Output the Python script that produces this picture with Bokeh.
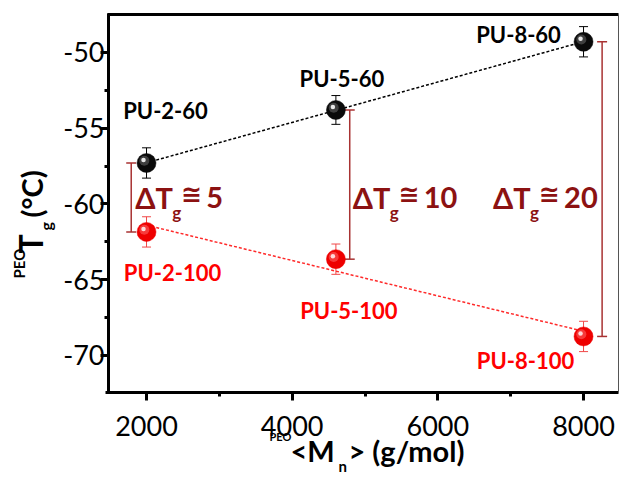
import numpy as np
from bokeh.plotting import figure
from bokeh.models import (ColumnDataSource, Whisker, TeeHead, Label, LinearAxis,
                          FixedTicker, Range1d, CustomJSTickFormatter)
from bokeh.transform import dodge
from bokeh.embed import file_html
from bokeh.resources import INLINE

# ---------------- data ----------------
mn = [2000, 4600, 8000]
tg_60 = [-57.3, -53.8, -49.3]
err_60 = [1.0, 0.95, 1.0]
tg_100 = [-61.85, -63.65, -68.75]
err_100 = [1.0, 1.0, 1.0]
names_60 = ["PU-2-60", "PU-5-60", "PU-8-60"]
names_100 = ["PU-2-100", "PU-5-100", "PU-8-100"]
delta_values = ["5", "10", "20"]
bracket_x = [1790, 4790, 8255]
x_ticks = [2000, 4000, 6000, 8000]
x_minor = [3000, 5000, 7000]
y_ticks = [-70, -65, -60, -55, -50]
y_minor = [-67.5, -62.5, -57.5, -52.5]
XD = (1478, 8480)
YD = (-72.45, -47.5)

# ---------------- layout ----------------
W, H = 620, 477
PL, PR, PT, PB = 108, 618, 14, 392          # plot-area box in canvas pixels
FONT = "Lato"
DRED = "#8C1212"
BR = "#A83232"
K = 0.39                                    # baseline correction (fraction of font size)

px_x = (XD[1] - XD[0]) / (PR - PL)
px_y = (YD[1] - YD[0]) / (PB - PT)
xr = Range1d(XD[0] - PL * px_x, XD[1] + (W - PR) * px_x)
yr = Range1d(YD[0] - (H - PB) * px_y, YD[1] + PT * px_y)

p = figure(width=W, height=H, x_range=xr, y_range=yr,
           x_axis_location=None, y_axis_location=None,
           output_backend="svg", toolbar_location=None, min_border=0)
p.grid.visible = False
p.outline_line_color = None
p.background_fill_color = "white"
p.border_fill_color = "white"

fmt = CustomJSTickFormatter(code="return tick.toString()")


def style_axis(ax, size="27px"):
    ax.axis_line_width = 3
    ax.axis_line_color = "black"
    ax.major_tick_line_width = 3
    ax.minor_tick_line_width = 3
    ax.major_tick_out = 8
    ax.major_tick_in = 0
    ax.minor_tick_out = 4
    ax.minor_tick_in = 0
    ax.major_label_text_font = FONT
    ax.major_label_text_font_size = size
    ax.major_label_text_color = "black"


xax = LinearAxis(fixed_location=YD[0], bounds=(XD[0] - 3 * px_x, XD[1]),
                 ticker=FixedTicker(ticks=x_ticks, minor_ticks=x_minor), formatter=fmt)
style_axis(xax)
xax.major_label_standoff = 15
p.add_layout(xax, "below")

yax = LinearAxis(fixed_location=XD[0], bounds=(YD[0], YD[1] + 1.5 * px_y),
                 ticker=FixedTicker(ticks=y_ticks, minor_ticks=y_minor), formatter=fmt)
style_axis(yax)
yax.major_label_standoff = -4
p.add_layout(yax, "left")

top = LinearAxis(fixed_location=YD[1], bounds=(XD[0] - 1.5 * px_x, XD[1]),
                 ticker=FixedTicker(ticks=[]), major_label_text_font_size="0px",
                 axis_line_width=3, axis_line_color="black",
                 major_tick_out=0, minor_tick_out=0, major_tick_in=0, minor_tick_in=0)
p.add_layout(top, "above")

right = LinearAxis(fixed_location=XD[1], bounds=YD,
                   ticker=FixedTicker(ticks=[]), major_label_text_font_size="0px",
                   axis_line_width=1, axis_line_color="#555555",
                   major_tick_out=0, minor_tick_out=0, major_tick_in=0, minor_tick_in=0)
p.add_layout(right, "right")

# ---------------- fit lines ----------------
for ys, col in ((tg_60, "black"), (tg_100, "#FF2A2A")):
    coef = np.polyfit(mn, ys, 1)
    xs = [mn[0], mn[-1]]
    p.line(xs, list(np.polyval(coef, xs)), line_color=col, line_width=1.5, line_dash="3 2")

# ---------------- error bars ----------------
for ys, es, col in ((tg_60, err_60, "black"), (tg_100, err_100, "#F04848")):
    src = ColumnDataSource(dict(x=mn, lo=[y - e for y, e in zip(ys, es)],
                                hi=[y + e for y, e in zip(ys, es)]))
    p.add_layout(Whisker(source=src, base="x", lower="lo", upper="hi",
                         line_color=col, line_width=1,
                         upper_head=TeeHead(size=9, line_color=col, line_width=1),
                         lower_head=TeeHead(size=9, line_color=col, line_width=1)))

# ---------------- brackets ----------------
bsrc = ColumnDataSource(dict(x=bracket_x, hi=tg_60, lo=tg_100))
p.add_layout(Whisker(source=bsrc, base="x", lower="lo", upper="hi",
                     line_color=BR, line_width=1.5,
                     upper_head=TeeHead(size=10, line_color=BR, line_width=1.5),
                     lower_head=TeeHead(size=10, line_color=BR, line_width=1.5)))

# ---------------- spheres ----------------
for ys, base, mid, hl in ((tg_60, "#0a0a0a", "#6a6a6a", "#f0f0f0"),
                          (tg_100, "#ee0000", "#ff6a6a", "#ffe0e0")):
    src = ColumnDataSource(dict(x=mn, y=ys))
    p.scatter("x", "y", source=src, size=19, fill_color=base, line_color=base, line_width=0.5)
    p.scatter(dodge("x", -2.2 * px_x, range=p.x_range), dodge("y", 2.2 * px_y, range=p.y_range),
              source=src, size=10, fill_color=mid, line_color=None, fill_alpha=0.55)
    p.scatter(dodge("x", -3.0 * px_x, range=p.x_range), dodge("y", 3.0 * px_y, range=p.y_range),
              source=src, size=4.5, fill_color=hl, line_color=None, fill_alpha=0.95)

# ---------------- point labels ----------------
off_60 = [(19, 44), (6, 23), (-65, -1)]
off_100 = [(26, -49), (13, -60), (-58, -33)]
for ys, names, offs, col in ((tg_60, names_60, off_60, "black"),
                             (tg_100, names_100, off_100, "#FF0000")):
    for x, y, t, (dx, dy) in zip(mn, ys, names, offs):
        p.add_layout(Label(x=x, y=y, text=t, x_offset=dx, y_offset=dy + K * 22,
                           text_align="center", text_baseline="alphabetic",
                           text_font=FONT, text_font_style="bold",
                           text_font_size="22px", text_color=col))

# ---------------- delta labels ----------------
delta_y = -60.3
delta_off = [4, 3, -109]
for bx, val, o in zip(bracket_x, delta_values, delta_off):
    common = dict(x=bx, y=delta_y, text_align="left", text_baseline="alphabetic",
                  text_font_style="bold", text_color=DRED)
    p.add_layout(Label(text="\u0394T", x_offset=o, y_offset=K * 29, text_font=FONT,
                       text_font_size="29px", **common))
    p.add_layout(Label(text="g", x_offset=o + 37, y_offset=-11 + K * 17, text_font=FONT,
                       text_font_size="17px", **common))
    p.add_layout(Label(text="\u2245", x_offset=o + 46, y_offset=4 + K * 25, text_font="DejaVu Sans",
                       text_font_size="25px", **common))
    p.add_layout(Label(text=val, x_offset=o + 71, y_offset=K * 29, text_font=FONT,
                       text_font_size="29px", **common))


# ---------------- axis titles (built from pieces) ----------------
def scr(text, x, y, size, angle=0):
    # x, y: canvas pixels of the text baseline start, measured from the top-left corner
    if angle:
        x = x - K * size
    else:
        y = y - K * size
    p.add_layout(Label(text=text, x=x, y=H - y, x_units="screen", y_units="screen",
                       angle=angle, angle_units="deg", text_align="left",
                       text_baseline="alphabetic", text_font=FONT,
                       text_font_style="bold", text_font_size=f"{size}px", text_color="black"))


# y title (rotated, reading upwards)
scr("PEO", 24, 278, 15, 90)
scr("T", 42, 253, 32, 90)
scr("g", 51, 230, 16, 90)
scr("(\u00b0C)", 42, 217, 29, 90)

# x title
scr("PEO", 269, 440, 11)
scr("<M", 290, 461, 29)
scr("n", 338, 471, 15)
scr("> (g/mol)", 348, 461, 29)

open("out.html", "w").write(file_html(p, INLINE))
